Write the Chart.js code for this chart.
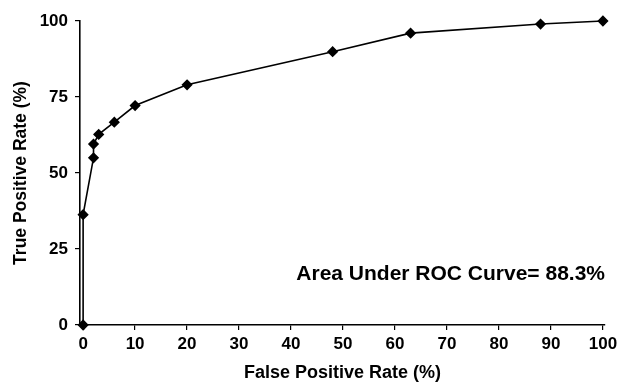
<!DOCTYPE html>
<html>
<head>
<meta charset="utf-8">
<script src="https://cdn.jsdelivr.net/npm/chart.js@4"></script>
<style>
html,body{margin:0;padding:0;background:#fff;}
#wrap{position:relative;width:618px;height:384px;}
</style>
</head>
<body>
<div id="wrap"><canvas id="c" width="618" height="384"></canvas></div>
<script>
const fpr = [0, 0, 2, 2, 3, 6, 10, 20, 48, 63, 88, 100];
const tpr = [0, 36.3, 55, 59.5, 62.7, 66.7, 72.2, 79, 89.9, 96, 99, 100];
const xTicks = [0, 10, 20, 30, 40, 50, 60, 70, 80, 90, 100];
const yTicks = [0, 25, 50, 75, 100];
const xTitle = 'False Positive Rate (%)';
const yTitle = 'True Positive Rate (%)';
const aucText = 'Area Under ROC Curve= 88.3%';

const FONT = '"Liberation Sans", Arial, sans-serif';
const points = fpr.map((x, i) => ({x: x, y: tpr[i]}));

const aucPlugin = {
  id: 'auc',
  afterDatasetsDraw(chart) {
    const ctx = chart.ctx;
    const xs = chart.scales.x, ys = chart.scales.y;
    ctx.save();
    ctx.font = 'bold 21px ' + FONT;
    ctx.fillStyle = '#000';
    ctx.textAlign = 'right';
    ctx.textBaseline = 'middle';
    ctx.fillText(aucText, xs.getPixelForValue(100.4), ys.getPixelForValue(16.8));
    ctx.restore();
  }
};

new Chart(document.getElementById('c'), {
  type: 'scatter',
  data: {
    datasets: [{
      data: points,
      showLine: true,
      borderColor: '#000',
      backgroundColor: '#000',
      borderWidth: 1.6,
      pointStyle: 'rectRot',
      pointRadius: 4.5,
      pointHoverRadius: 4.5,
      clip: false
    }]
  },
  options: {
    responsive: false,
    animation: false,
    events: [],
    layout: {padding: {left: 0, top: 21, right: 13, bottom: 0}},
    plugins: {legend: {display: false}, tooltip: {enabled: false}},
    scales: {
      x: {
        type: 'linear',
        min: -0.6,
        max: 100.4,
        afterBuildTicks: s => { s.ticks = xTicks.map(v => ({value: v})); },
        afterFit: s => { s.height = 59; s.paddingLeft = 0; s.paddingRight = 0; },
        grid: {drawOnChartArea: false, drawTicks: true, tickLength: 5, color: '#000', lineWidth: 1.2},
        border: {display: true, color: '#000', width: 1.6},
        ticks: {color: '#000', font: {family: FONT, size: 17, weight: 'bold'}, padding: 4, maxRotation: 0},
        title: {display: true, text: xTitle, color: '#000', font: {family: FONT, size: 18, weight: 'bold'}, padding: {top: 2, bottom: 0}}
      },
      y: {
        type: 'linear',
        min: 0,
        max: 100,
        afterBuildTicks: s => { s.ticks = yTicks.map(v => ({value: v})); },
        afterFit: s => { s.width = 80; s.paddingTop = 0; s.paddingBottom = 0; },
        grid: {drawOnChartArea: false, drawTicks: true, tickLength: 5, color: '#000', lineWidth: 1.2},
        border: {display: true, color: '#000', width: 1.6},
        ticks: {color: '#000', font: {family: FONT, size: 17, weight: 'bold'}, padding: 7},
        title: {display: true, text: yTitle, color: '#000', font: {family: FONT, size: 17.5, weight: 'bold'}, padding: {top: 11, bottom: 0}}
      }
    }
  },
  plugins: [aucPlugin]
});
</script>
</body>
</html>
